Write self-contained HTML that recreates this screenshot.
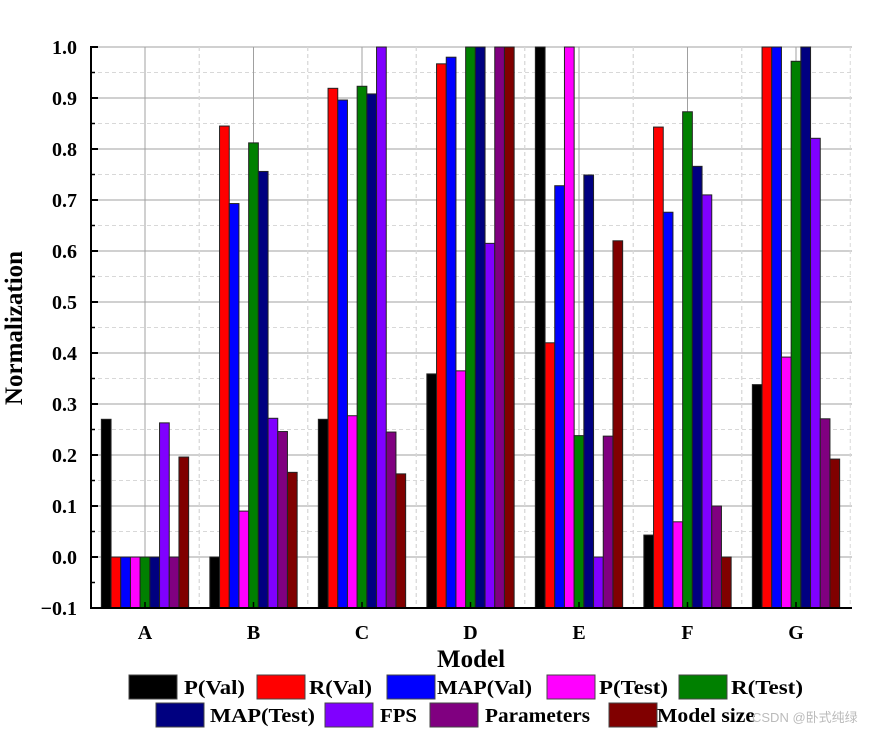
<!DOCTYPE html>
<html><head><meta charset="utf-8"><style>
html,body{margin:0;padding:0;background:#fff;}
svg{display:block;font-family:"Liberation Serif",serif;font-weight:bold;}
</style></head><body>
<svg id="chart" width="883" height="733" viewBox="0 0 883 733" xmlns="http://www.w3.org/2000/svg">
<g id="grid"></g>
<g id="bars"></g>
<g id="axes"></g>
<text x="22" y="328" font-size="25" text-anchor="middle" transform="rotate(-90 22 328)">Normalization</text>
<text x="471" y="667" font-size="25" text-anchor="middle">Model</text>
<g id="legend"></g>
<text x="752" y="722" font-size="13" font-weight="normal" fill="#bbb" style="font-family:'Liberation Sans','Noto Sans CJK SC',sans-serif">CSDN @卧式纯绿</text>
</svg>
<script>
const categories = ["A","B","C","D","E","F","G"];
const seriesNames = ["P(Val)","R(Val)","MAP(Val)","P(Test)","R(Test)","MAP(Test)","FPS","Parameters","Model size"];
const seriesColors = ["#000000","#ff0000","#0000ff","#ff00ff","#008000","#000080","#8000ff","#800080","#800000"];
const pVal    = [0.270, 0.000, 0.270, 0.359, 1.000, 0.043, 0.338];
const rVal    = [0.000, 0.845, 0.919, 0.967, 0.420, 0.843, 1.000];
const mapVal  = [0.000, 0.693, 0.896, 0.980, 0.728, 0.676, 1.000];
const pTest   = [0.000, 0.090, 0.277, 0.365, 1.000, 0.069, 0.392];
const rTest   = [0.000, 0.812, 0.923, 1.000, 0.238, 0.873, 0.972];
const mapTest = [0.000, 0.756, 0.908, 1.000, 0.749, 0.766, 1.000];
const fps     = [0.263, 0.272, 1.000, 0.615, 0.000, 0.710, 0.821];
const params  = [0.000, 0.246, 0.245, 1.000, 0.237, 0.100, 0.271];
const modelSize = [0.196, 0.166, 0.163, 1.000, 0.620, 0.000, 0.192];
const yTicks = [-0.1,0.0,0.1,0.2,0.3,0.4,0.5,0.6,0.7,0.8,0.9,1.0];
const series = [pVal,rVal,mapVal,pTest,rTest,mapTest,fps,params,modelSize];

const NS="http://www.w3.org/2000/svg";
const X0=91, X1=852, YMIN=-0.1, YMAX=1.0, PY0=608, PY1=47;
const y = v => PY0 - (v-YMIN)/(YMAX-YMIN)*(PY0-PY1);
const groupW = 108.5, barW = 9.7;
const xc = i => 145 + i*groupW;
function mk(tag, parent, attrs){const e=document.createElementNS(NS,tag);for(const k in attrs)e.setAttribute(k,attrs[k]);parent.appendChild(e);return e;}
const grid=document.getElementById('grid'), bars=document.getElementById('bars'), axes=document.getElementById('axes'), legend=document.getElementById('legend');

for(let k=0;k<=20;k++){
  const v=k*0.05; const yy=y(v);
  const major = k%2===0;
  const l=mk('line',grid,{x1:X0,x2:X1,y1:yy,y2:yy,stroke:major?'#a0a0a0':'#d8d8d8','stroke-width':1,'stroke-dasharray':major?'':'4,3'});
  
  
}
categories.forEach((c,i)=>{
  const l=mk('line',grid,{x1:xc(i),x2:xc(i),y1:PY1,y2:PY0,stroke:'#a0a0a0','stroke-width':1});
  
  
  [-0.5,0.5].forEach(o=>{
    const xx=xc(i)+o*groupW; if(xx>X1) return;
    const d=mk('line',grid,{x1:xx,x2:xx,y1:PY1,y2:PY0,stroke:'#d8d8d8','stroke-width':1,'stroke-dasharray':'4,3'});
    
    
  });
});
categories.forEach((c,i)=>{
  series.forEach((s,j)=>{
    const x=xc(i)-4.5*barW+j*barW;
    const top=y(s[i]);
    const r=mk('rect',bars,{x:x,y:top,width:barW,height:PY0-top,fill:seriesColors[j],stroke:'#222','stroke-width':1});
    
    
  });
});
const ya=mk('line',axes,{x1:X0,x2:X0,y1:PY1-1,y2:PY0+1,stroke:'#000','stroke-width':2});


const xa=mk('line',axes,{x1:X0-1,x2:X1,y1:PY0,y2:PY0,stroke:'#000','stroke-width':2});


yTicks.forEach(v=>{
  const yy=y(v);
  const t=mk('line',axes,{x1:X0,x2:X0+7,y1:yy,y2:yy,stroke:'#000','stroke-width':2});
  
  
  if(v<YMAX){const m=mk('line',axes,{x1:X0,x2:X0+4,y1:y(v+0.05),y2:y(v+0.05),stroke:'#000','stroke-width':1.5});
  
  }
  const tx=mk('text',axes,{x:X0-14,y:yy+7,'font-size':20,'text-anchor':'end'});
  tx.textContent=v.toFixed(1).replace('-','\u2212');
  
  
});
categories.forEach((c,i)=>{
  const t=mk('line',axes,{x1:xc(i),x2:xc(i),y1:PY0,y2:PY0-6,stroke:'#000','stroke-width':1.5});
  
  
  const tx=mk('text',axes,{x:xc(i),y:639,'font-size':20,'text-anchor':'middle'});
  tx.textContent=c;
  
  
});
const legSw=[[129,675],[257,675],[387,675],[547,675],[679,675],[156,703],[325,703],[430,703],[609,703]];
const legTx=[[184,61],[309,63],[437,95],[599,69],[731,72],[210,105],[380,37],[485,105],[657,98]];
seriesNames.forEach((n,j)=>{
  const g=mk('g',legend,{});
  
  
  const r=mk('rect',g,{x:legSw[j][0],y:legSw[j][1],width:48,height:24,fill:seriesColors[j],stroke:'#444','stroke-width':1});
  
  
  const t=mk('text',g,{x:legTx[j][0],y:legSw[j][1]+19,'font-size':20,textLength:legTx[j][1],lengthAdjust:'spacingAndGlyphs'});
  t.textContent=n;
  
  
});
</script>
</body></html>
